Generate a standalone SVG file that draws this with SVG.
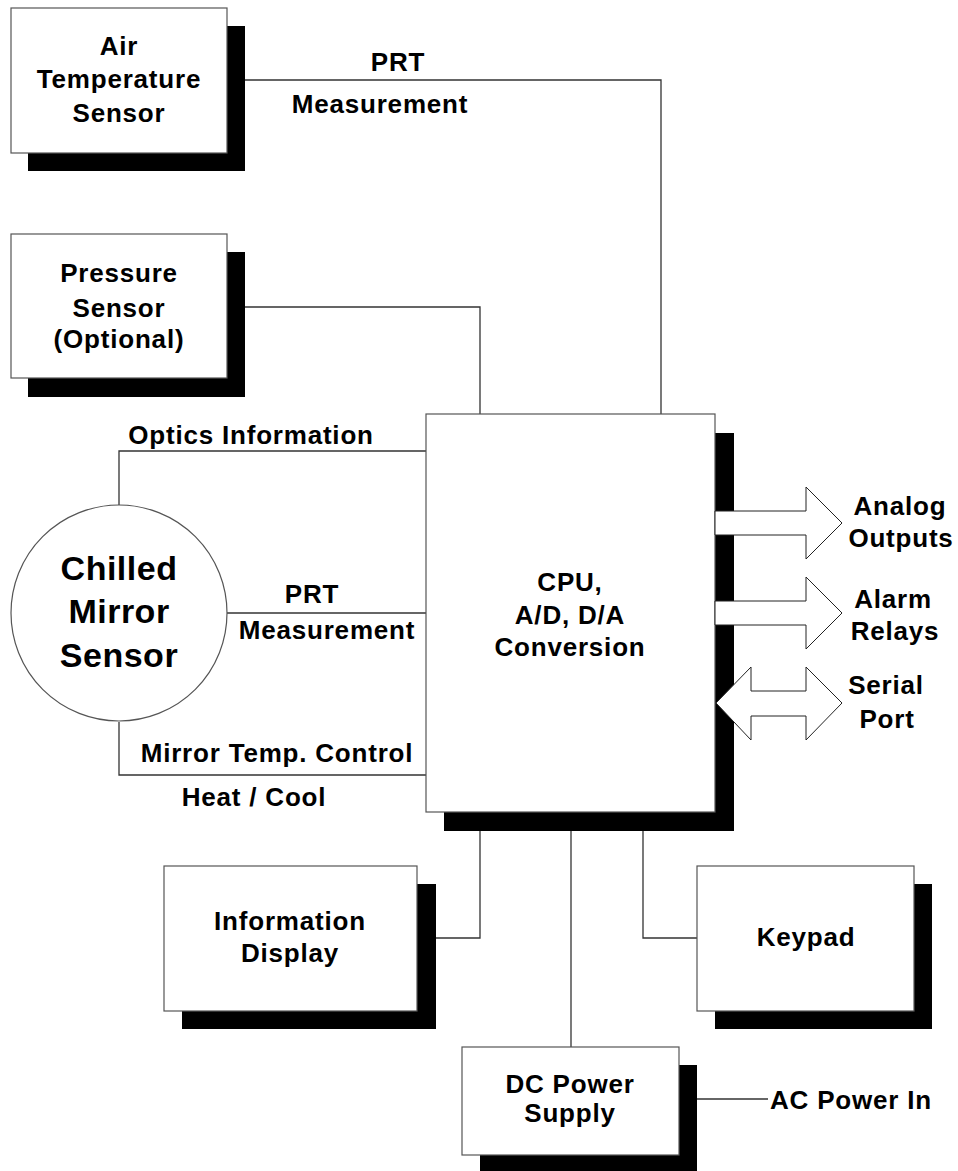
<svg xmlns="http://www.w3.org/2000/svg" width="958" height="1171" viewBox="0 0 958 1171">
<style>
.bg{fill:#fff}
.box{fill:#fff;stroke:#555;stroke-width:1.2}
.sh{fill:#000}
.ln{fill:none;stroke:#333;stroke-width:1.3}
.ar{fill:#fff;stroke:#222;stroke-width:1}
.t{font-family:"Liberation Sans",Arial,sans-serif;font-weight:bold;font-size:26px;fill:#000;text-anchor:middle;letter-spacing:0.8px}
.big{font-size:34px;letter-spacing:0.5px}
</style>
<rect class="bg" width="958" height="1171"/>
<g id="connectors">
<polyline class="ln" points="245,80 661,80 661,414"/>
<polyline class="ln" points="245,307 480,307 480,414"/>
<polyline class="ln" points="119,505 119,451 426,451"/>
<line class="ln" x1="227" y1="613" x2="426" y2="613"/>
<polyline class="ln" points="119,722 119,775 426,775"/>
<polyline class="ln" points="480,831 480,938 436,938"/>
<polyline class="ln" points="643,831 643,938 697,938"/>
<line class="ln" x1="571" y1="831" x2="571" y2="1047"/>
<line class="ln" x1="697" y1="1099" x2="768" y2="1099"/>
<text class="t" x="398" y="71">PRT</text>
<text class="t" x="380" y="113">Measurement</text>
<text class="t" x="251" y="444">Optics Information</text>
<text class="t" x="312" y="603">PRT</text>
<text class="t" x="327" y="639">Measurement</text>
<text class="t" x="277" y="762">Mirror Temp. Control</text>
<text class="t" x="254" y="806">Heat / Cool</text>
<text class="t" x="770" y="1109" style="text-anchor:start">AC Power In</text>
</g>
<g id="air-temp">
<rect class="sh" x="28" y="26" width="217" height="145"/>
<rect class="box" x="11" y="8" width="216" height="145"/>
<text class="t" x="119" y="55">Air</text>
<text class="t" x="119" y="88">Temperature</text>
<text class="t" x="119" y="122">Sensor</text>
</g>
<g id="pressure">
<rect class="sh" x="28" y="252" width="217" height="145"/>
<rect class="box" x="11" y="234" width="216" height="144"/>
<text class="t" x="119" y="282">Pressure</text>
<text class="t" x="119" y="317">Sensor</text>
<text class="t" x="119" y="348">(Optional)</text>
</g>
<g id="chilled-mirror">
<circle class="box" cx="119" cy="613" r="108"/>
<text class="t big" x="119" y="580">Chilled</text>
<text class="t big" x="119" y="623">Mirror</text>
<text class="t big" x="119" y="667">Sensor</text>
</g>
<g id="cpu">
<rect class="sh" x="444" y="433" width="290" height="398"/>
<rect class="box" x="426" y="414" width="289" height="398"/>
<text class="t" x="570" y="591">CPU,</text>
<text class="t" x="570" y="624">A/D, D/A</text>
<text class="t" x="570" y="656">Conversion</text>
</g>
<g id="analog-outputs">
<polygon class="ar" points="715,511 806,511 806,487 842,523 806,559 806,535 715,535"/>
<text class="t" x="900" y="515">Analog</text>
<text class="t" x="901" y="547">Outputs</text>
</g>
<g id="alarm-relays">
<polygon class="ar" points="715,601 806,601 806,577 842,613 806,649 806,625 715,625"/>
<text class="t" x="893" y="608">Alarm</text>
<text class="t" x="895" y="640">Relays</text>
</g>
<g id="serial-port">
<polygon class="ar" points="716,703 751,667 751,691 806,691 806,667 842,703 806,740 806,716 751,716 751,740"/>
<text class="t" x="886" y="694">Serial</text>
<text class="t" x="887" y="728">Port</text>
</g>
<g id="info-display">
<rect class="sh" x="182" y="884" width="254" height="145"/>
<rect class="box" x="164" y="866" width="253" height="145"/>
<text class="t" x="290" y="930">Information</text>
<text class="t" x="290" y="962">Display</text>
</g>
<g id="keypad">
<rect class="sh" x="715" y="884" width="217" height="145"/>
<rect class="box" x="697" y="866" width="217" height="145"/>
<text class="t" x="806" y="946">Keypad</text>
</g>
<g id="dc-power">
<rect class="sh" x="480" y="1065" width="217" height="106"/>
<rect class="box" x="462" y="1047" width="217" height="108"/>
<text class="t" x="570" y="1093">DC Power</text>
<text class="t" x="570" y="1122">Supply</text>
</g>
</svg>
